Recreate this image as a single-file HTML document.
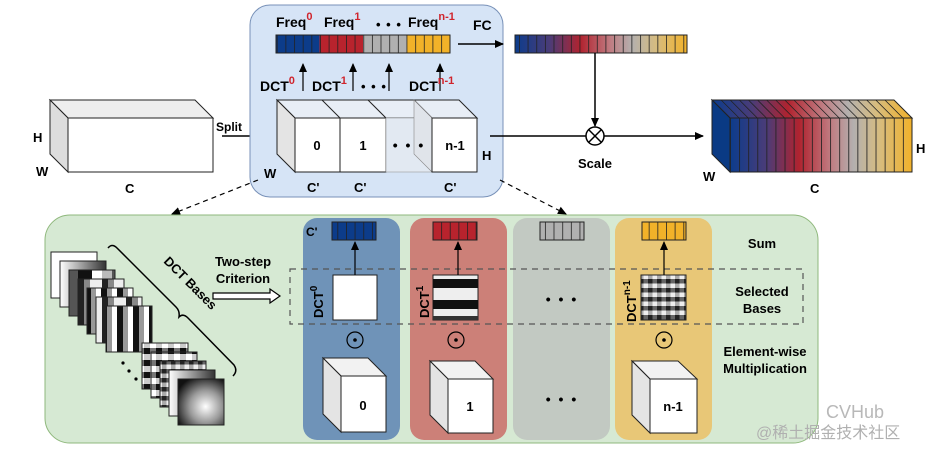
<!DOCTYPE html>
<html><head><meta charset="utf-8"><style>
html,body{margin:0;padding:0;background:#fff;}
svg{display:block;font-family:"Liberation Sans",Arial,sans-serif;font-weight:bold;}
</style></head><body>
<svg width="930" height="454" viewBox="0 0 930 454" xmlns="http://www.w3.org/2000/svg">
<defs>
<linearGradient id="rb" x1="0" x2="1" y1="0" y2="0">
<stop offset="0" stop-color="#0c3c8c"/><stop offset="0.2" stop-color="#4a3c78"/><stop offset="0.38" stop-color="#b0232f"/><stop offset="0.55" stop-color="#c07a80"/><stop offset="0.68" stop-color="#b4b0ae"/><stop offset="0.82" stop-color="#d6bc80"/><stop offset="1" stop-color="#f2b22a"/>
</linearGradient>
<pattern id="cells" width="8.65" height="20" patternUnits="userSpaceOnUse" x="0"><line x1="0.4" y1="0" x2="0.4" y2="20" stroke="#222" stroke-width="0.8"/></pattern>
<pattern id="cells2" width="9.1" height="60" patternUnits="userSpaceOnUse" x="730"><line x1="0.4" y1="0" x2="0.4" y2="60" stroke="#222" stroke-width="0.9"/></pattern>
<pattern id="vs1" width="46" height="46" patternUnits="userSpaceOnUse"><rect width="46" height="46" fill="#fff"/><rect x="10" width="10" height="46" fill="#bbb"/><rect x="20" width="12" height="46" fill="#555"/><rect x="32" width="14" height="46" fill="#111"/></pattern>
<pattern id="vs2" width="24" height="46" patternUnits="userSpaceOnUse"><rect width="24" height="46" fill="#eee"/><rect x="6" width="6" height="46" fill="#222"/><rect x="12" width="6" height="46" fill="#888"/></pattern>
<pattern id="vs3" width="16" height="46" patternUnits="userSpaceOnUse"><rect width="16" height="46" fill="#fff"/><rect x="5" width="6" height="46" fill="#111"/><rect x="11" width="5" height="46" fill="#999"/></pattern>
<pattern id="chk" width="12" height="12" patternUnits="userSpaceOnUse"><rect width="12" height="12" fill="#ccc"/><rect width="6" height="6" fill="#111"/><rect x="6" y="6" width="6" height="6" fill="#fff"/><rect x="6" width="6" height="6" fill="#777"/></pattern>
<pattern id="chk2" width="9" height="9" patternUnits="userSpaceOnUse"><rect width="9" height="9" fill="#aaa"/><rect width="4.5" height="4.5" fill="#222"/><rect x="4.5" y="4.5" width="4.5" height="4.5" fill="#eee"/><rect x="4.5" width="4.5" height="4.5" fill="#666"/></pattern>
<radialGradient id="smooth" cx="0.6" cy="0.6" r="0.7"><stop offset="0" stop-color="#fff"/><stop offset="0.5" stop-color="#999"/><stop offset="1" stop-color="#111"/></radialGradient>
<linearGradient id="hg" x1="0" x2="1"><stop offset="0" stop-color="#fff"/><stop offset="1" stop-color="#333"/></linearGradient>
<marker id="ah" markerWidth="10" markerHeight="10" refX="8" refY="5" orient="auto" markerUnits="userSpaceOnUse"><path d="M0,1 L9,5 L0,9 Z" fill="#000"/></marker>
</defs>

<!-- left cube -->
<polygon points="50,100 195,100 213,118 68,118" fill="#eee" stroke="#222" stroke-width="1"/>
<polygon points="50,100 68,118 68,172 50,154" fill="#ddd" stroke="#222" stroke-width="1"/>
<rect x="68" y="118" width="145" height="54" fill="#fff" stroke="#222" stroke-width="1"/>
<text x="33" y="142" font-size="13">H</text>
<text x="36" y="176" font-size="13">W</text>
<text x="125" y="193" font-size="13">C</text>
<text x="216" y="131" font-size="12">Split</text>
<line x1="222" y1="136" x2="274" y2="136" stroke="#000" stroke-width="1.5" marker-end="url(#ah)"/>

<!-- top blue box -->
<rect x="250" y="5" width="253" height="192" rx="20" fill="#d6e4f6" stroke="#7891b8" stroke-width="1"/>
<text x="276" y="27" font-size="14">Freq<tspan fill="#d0242c" font-size="11" dy="-7">0</tspan></text>
<text x="324" y="27" font-size="14">Freq<tspan fill="#d0242c" font-size="11" dy="-7">1</tspan></text>
<text x="376" y="29" font-size="13" letter-spacing="1">• • •</text>
<text x="408" y="27" font-size="14">Freq<tspan fill="#d0242c" font-size="11" dy="-7">n-1</tspan></text>
<rect x="276" y="35" width="43.5" height="18" fill="#0c3c8a"/>
<rect x="319.5" y="35" width="43.5" height="18" fill="#b8232d"/>
<rect x="363" y="35" width="43.5" height="18" fill="#b0b0b0"/>
<rect x="406.5" y="35" width="43.5" height="18" fill="#f2b229"/>
<rect x="276" y="35" width="174" height="18" fill="url(#cells)" stroke="#222" stroke-width="1"/>
<text x="473" y="30" font-size="14">FC</text>
<line x1="458" y1="44" x2="503" y2="44" stroke="#000" stroke-width="1.5" marker-end="url(#ah)"/>
<g stroke="#000" stroke-width="1.2" marker-end="url(#ah)">
<line x1="303" y1="91" x2="303" y2="64"/><line x1="353" y1="91" x2="353" y2="64"/><line x1="389" y1="91" x2="389" y2="64"/><line x1="440" y1="91" x2="440" y2="64"/>
</g>
<text x="260" y="91" font-size="14">DCT<tspan fill="#d0242c" font-size="11" dy="-7">0</tspan></text>
<text x="312" y="91" font-size="14">DCT<tspan fill="#d0242c" font-size="11" dy="-7">1</tspan></text>
<text x="361" y="91" font-size="13" letter-spacing="1">• • •</text>
<text x="409" y="91" font-size="14">DCT<tspan fill="#d0242c" font-size="11" dy="-7">n-1</tspan></text>
<!-- split cubes -->
<polygon points="277,100 459,100 477,118 295,118" fill="#e8eef6" stroke="#222" stroke-width="1"/>
<polygon points="277,100 295,118 295,172 277,154" fill="#e4e4e4" stroke="#222" stroke-width="1"/>
<line x1="322" y1="100" x2="340" y2="118" stroke="#222"/><line x1="368" y1="100" x2="386" y2="118" stroke="#222"/><line x1="414" y1="100" x2="432" y2="118" stroke="#222"/>
<rect x="295" y="118" width="45" height="54" fill="#fff" stroke="#222"/>
<rect x="340" y="118" width="46" height="54" fill="#fff" stroke="#222"/>
<rect x="386" y="118" width="46" height="54" fill="#e2e9f2" stroke="#999" stroke-width="0.6"/>
<polygon points="414,100 432,118 432,172 414,154" fill="#e0e4ea" stroke="#888" stroke-width="0.6"/>
<rect x="432" y="118" width="45" height="54" fill="#fff" stroke="#222"/>
<text x="317" y="150" font-size="13" text-anchor="middle">0</text>
<text x="363" y="150" font-size="13" text-anchor="middle">1</text>
<text x="409" y="150" font-size="14" text-anchor="middle" letter-spacing="2">• • •</text>
<text x="455" y="150" font-size="13" text-anchor="middle">n-1</text>
<text x="264" y="178" font-size="13">W</text>
<text x="482" y="160" font-size="13">H</text>
<text x="307" y="192" font-size="13">C'</text>
<text x="354" y="192" font-size="13">C'</text>
<text x="444" y="192" font-size="13">C'</text>

<!-- FC output bar -->
<rect x="515" y="35" width="172" height="18" fill="url(#rb)"/>
<rect x="515" y="35" width="172" height="18" fill="url(#cells)" stroke="#222"/>
<line x1="595" y1="53" x2="595" y2="126" stroke="#000" stroke-width="1.5" marker-end="url(#ah)"/>
<line x1="490" y1="136" x2="703" y2="136" stroke="#000" stroke-width="1.5" marker-end="url(#ah)"/>
<circle cx="595" cy="136" r="9" fill="#fff" stroke="#000" stroke-width="1.5"/>
<line x1="589" y1="130" x2="601" y2="142" stroke="#000" stroke-width="1.5"/><line x1="601" y1="130" x2="589" y2="142" stroke="#000" stroke-width="1.5"/>
<text x="595" y="168" font-size="13" text-anchor="middle">Scale</text>

<!-- right colored block -->
<polygon points="712,100 894,100 912,118 730,118" fill="url(#rb)" stroke="#222"/>
<polygon points="712,100 730,118 730,172 712,154" fill="#0a3a84" stroke="#222"/>
<rect x="730" y="118" width="182" height="54" fill="url(#rb)"/>
<rect x="730" y="118" width="182" height="54" fill="url(#cells2)" stroke="#222"/>
<g stroke="#222" stroke-width="0.8">
<line x1="721.1" y1="100" x2="739.1" y2="118"/><line x1="730.2" y1="100" x2="748.2" y2="118"/><line x1="739.3" y1="100" x2="757.3" y2="118"/><line x1="748.4" y1="100" x2="766.4" y2="118"/><line x1="757.5" y1="100" x2="775.5" y2="118"/><line x1="766.6" y1="100" x2="784.6" y2="118"/><line x1="775.7" y1="100" x2="793.7" y2="118"/><line x1="784.8" y1="100" x2="802.8" y2="118"/><line x1="793.9" y1="100" x2="811.9" y2="118"/><line x1="803" y1="100" x2="821" y2="118"/><line x1="812.1" y1="100" x2="830.1" y2="118"/><line x1="821.2" y1="100" x2="839.2" y2="118"/><line x1="830.3" y1="100" x2="848.3" y2="118"/><line x1="839.4" y1="100" x2="857.4" y2="118"/><line x1="848.5" y1="100" x2="866.5" y2="118"/><line x1="857.6" y1="100" x2="875.6" y2="118"/><line x1="866.7" y1="100" x2="884.7" y2="118"/><line x1="875.8" y1="100" x2="893.8" y2="118"/><line x1="884.9" y1="100" x2="902.9" y2="118"/>
</g>
<text x="916" y="153" font-size="13">H</text>
<text x="703" y="181" font-size="13">W</text>
<text x="810" y="193" font-size="13">C</text>

<!-- dashed arrows -->
<line x1="258" y1="180" x2="172" y2="214" stroke="#000" stroke-width="1.2" stroke-dasharray="5,4" marker-end="url(#ah)"/>
<line x1="500" y1="180" x2="566" y2="214" stroke="#000" stroke-width="1.2" stroke-dasharray="5,4" marker-end="url(#ah)"/>

<!-- bottom green box -->
<rect x="45" y="215" width="773" height="228" rx="25" fill="#d6e9d3" stroke="#8fb87c" stroke-width="1"/>
<rect x="303" y="218" width="97" height="222" rx="14" fill="#6f93b8"/>
<rect x="410" y="218" width="97" height="222" rx="14" fill="#cc8078"/>
<rect x="513" y="218" width="97" height="222" rx="14" fill="#c2c9c2"/>
<rect x="615" y="218" width="97" height="222" rx="14" fill="#e8c777"/>

<!-- small bars -->
<rect x="332" y="222" width="44" height="18" fill="#0c3c8a"/><rect x="332" y="222" width="44" height="18" fill="url(#cells)" stroke="#222"/>
<rect x="433" y="222" width="44" height="18" fill="#b8232d"/><rect x="433" y="222" width="44" height="18" fill="url(#cells)" stroke="#222"/>
<rect x="540" y="222" width="44" height="18" fill="#b0b0b0"/><rect x="540" y="222" width="44" height="18" fill="url(#cells)" stroke="#222"/>
<rect x="642" y="222" width="44" height="18" fill="#f2b229"/><rect x="642" y="222" width="44" height="18" fill="url(#cells)" stroke="#222"/>
<text x="306" y="236" font-size="12">C'</text>

<!-- dashed selection box -->
<rect x="290" y="269" width="513" height="55" fill="none" stroke="#555" stroke-width="1.2" stroke-dasharray="6,5"/>

<!-- DCT squares -->
<rect x="333" y="275" width="44" height="45" fill="#fff" stroke="#222"/>
<rect x="433" y="275" width="45" height="45" fill="#eee" stroke="#222"/>
<rect x="433" y="279" width="45" height="9" fill="#111"/><rect x="433" y="300" width="45" height="9" fill="#111"/><rect x="433" y="316" width="45" height="4" fill="#333"/>
<rect x="641" y="275" width="45" height="45" fill="url(#chk2)" stroke="#222"/>
<text x="562" y="304" font-size="14" text-anchor="middle" letter-spacing="2">• • •</text>
<text x="562" y="404" font-size="14" text-anchor="middle" letter-spacing="2">• • •</text>
<g stroke="#000" stroke-width="1.2" marker-end="url(#ah)">
<line x1="355" y1="275" x2="355" y2="242"/><line x1="458" y1="275" x2="458" y2="242"/><line x1="664" y1="275" x2="664" y2="242"/>
</g>
<text transform="translate(323,318) rotate(-90)" font-size="13">DCT<tspan font-size="10" dy="-6">0</tspan></text>
<text transform="translate(429,318) rotate(-90)" font-size="13">DCT<tspan font-size="10" dy="-6">1</tspan></text>
<text transform="translate(636,322) rotate(-90)" font-size="13">DCT<tspan font-size="10" dy="-6">n-1</tspan></text>

<!-- odot -->
<g fill="none" stroke="#000" stroke-width="1.2">
<circle cx="355" cy="340" r="8"/><circle cx="456" cy="340" r="8"/><circle cx="664" cy="340" r="8"/>
</g>
<circle cx="355" cy="340" r="1.8"/><circle cx="456" cy="340" r="1.8"/><circle cx="664" cy="340" r="1.8"/>

<!-- bottom cubes -->
<g stroke="#222" stroke-width="1">
<polygon points="323,358 368,358 386,376 341,376" fill="#f2f2f2"/><polygon points="323,358 341,376 341,432 323,414" fill="#e4e4e4"/><rect x="341" y="376" width="45" height="56" fill="#fff"/>
<polygon points="430,361 475,361 493,379 448,379" fill="#f2f2f2"/><polygon points="430,361 448,379 448,433 430,415" fill="#e4e4e4"/><rect x="448" y="379" width="45" height="54" fill="#fff"/>
<polygon points="632,361 678,361 697,379 650,379" fill="#f2f2f2"/><polygon points="632,361 650,379 650,433 632,415" fill="#e4e4e4"/><rect x="650" y="379" width="47" height="54" fill="#fff"/>
</g>
<text x="363" y="410" font-size="13" text-anchor="middle">0</text>
<text x="470" y="411" font-size="13" text-anchor="middle">1</text>
<text x="673" y="411" font-size="13" text-anchor="middle">n-1</text>

<!-- right labels -->
<text x="762" y="248" font-size="13" text-anchor="middle">Sum</text>
<text x="762" y="296" font-size="13" text-anchor="middle">Selected</text>
<text x="762" y="313" font-size="13" text-anchor="middle">Bases</text>
<text x="765" y="356" font-size="13" text-anchor="middle">Element-wise</text>
<text x="765" y="373" font-size="13" text-anchor="middle">Multiplication</text>

<!-- DCT bases stack -->
<g stroke="#222" stroke-width="1">
<rect x="51" y="252" width="46" height="46" fill="#fff"/>
<rect x="60" y="261" width="46" height="46" fill="url(#hg)"/>
<rect x="69" y="270" width="46" height="46" fill="url(#vs1)"/>
<rect x="78" y="279" width="46" height="46" fill="url(#vs2)"/>
<rect x="87" y="288" width="46" height="46" fill="url(#vs3)"/>
<rect x="96" y="297" width="46" height="46" fill="url(#vs2)"/>
<rect x="106" y="306" width="46" height="46" fill="url(#vs3)"/>
<rect x="142" y="343" width="46" height="46" fill="url(#chk)"/>
<rect x="151" y="352" width="46" height="46" fill="url(#chk)"/>
<rect x="160" y="361" width="46" height="46" fill="url(#chk2)"/>
<rect x="169" y="370" width="46" height="46" fill="url(#hg)"/>
<rect x="178" y="379" width="46" height="46" fill="url(#smooth)"/>
</g>
<circle cx="123" cy="363" r="1.6"/><circle cx="129" cy="371" r="1.6"/><circle cx="136" cy="379" r="1.6"/>
<path d="M108,248 Q112,243 117,248 L176,307 Q180,311 179,317 Q183,313 188,318 L234,365 Q238,371 233,376" fill="none" stroke="#000" stroke-width="1.5"/>
<text transform="translate(163,262) rotate(45)" font-size="13">DCT Bases</text>
<text x="243" y="266" font-size="13" text-anchor="middle">Two-step</text>
<text x="243" y="283" font-size="13" text-anchor="middle">Criterion</text>
<path d="M213,293 L270,293 L270,289 L280,296 L270,303 L270,299 L213,299 Z" fill="#fff" stroke="#000" stroke-width="1.2"/>

<!-- watermark -->
<text x="826" y="418" font-size="18" font-weight="normal" fill="#b8b8b8">CVHub</text>
<text x="756" y="438" font-size="16" font-weight="normal" fill="#b0b0b0" font-family="'Liberation Sans','Noto Sans CJK SC',sans-serif">@稀土掘金技术社区</text>
</svg>
</body></html>
